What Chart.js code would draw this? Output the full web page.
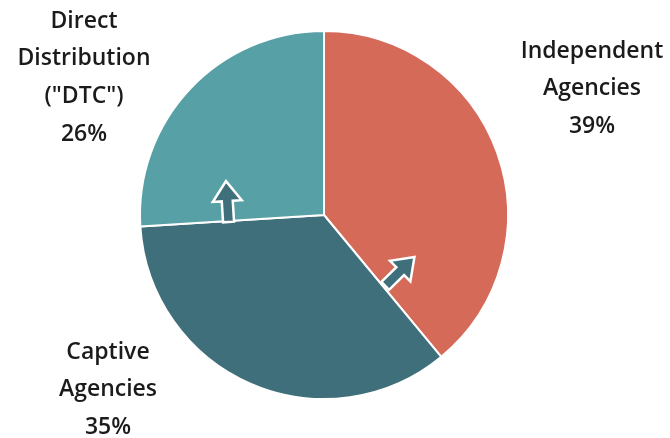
<!DOCTYPE html>
<html>
<head>
<meta charset="utf-8">
<script src="https://cdn.jsdelivr.net/npm/chart.js@4.4.1/dist/chart.umd.min.js"></script>
<style>
  html, body { margin: 0; padding: 0; background: #ffffff; }
  #wrap { width: 670px; height: 438px; }
</style>
</head>
<body>
<div id="wrap"><canvas id="chart" width="670" height="438"></canvas></div>
<script>
// Distribution channel shares
const categories = ['Independent Agencies', 'Captive Agencies', 'Direct Distribution ("DTC")'];
const shares = [39, 35, 26];
const labelLines = [
  ['Independent', 'Agencies'],
  ['Captive', 'Agencies'],
  ['Direct', 'Distribution', '("DTC")']
];
const sliceColors = ['#d56a59', '#3f6f7b', '#57a0a5'];

// Label anchor (center x, first line y) and line spacing
const labelPlacement = [
  { x: 592, y: 51 },
  { x: 108, y: 352 },
  { x: 84, y: 21 }
];
const lineGap = 37.8;

// Shift arrows: drawn on the boundary after slice `boundary`,
// pointing out of the Captive slice into its neighbour.
const shiftArrows = [
  { boundary: 0, dir: -1, at: 0.51, tilt: -5, shift: 3 },
  { boundary: 1, dir: 1, at: 0.52, tilt: 0, shift: 0 }
];

const labelsPlugin = {
  id: 'sliceLabels',
  afterDraw(chart) {
    const ctx = chart.ctx;
    ctx.save();
    ctx.fillStyle = '#1b1b1b';
    ctx.font = '600 23px "Open Sans", "Lato", sans-serif';
    ctx.textAlign = 'center';
    ctx.textBaseline = 'middle';
    categories.forEach((c, i) => {
      const lines = labelLines[i].concat([shares[i] + '%']);
      const p = labelPlacement[i];
      lines.forEach((t, k) => ctx.fillText(t, p.x, p.y + k * lineGap));
    });
    ctx.restore();
  }
};

const arrowsPlugin = {
  id: 'shiftArrows',
  afterDatasetsDraw(chart) {
    const ctx = chart.ctx;
    const arcs = chart.getDatasetMeta(0).data;
    shiftArrows.forEach(a => {
      const arc = arcs[a.boundary];
      const th = arc.endAngle;
      const r = arc.outerRadius * a.at;
      const bx = arc.x + r * Math.cos(th);
      const by = arc.y + r * Math.sin(th);
      // direction perpendicular to the boundary radius
      const ang = th + a.dir * Math.PI / 2 + a.tilt * Math.PI / 180;
      ctx.save();
      ctx.translate(bx, by);
      ctx.rotate(ang);
      ctx.translate(a.shift, 0);
      ctx.beginPath();
      ctx.moveTo(-1, -5.5);
      ctx.lineTo(20, -5.5);
      ctx.lineTo(20, -14.5);
      ctx.lineTo(40, 0);
      ctx.lineTo(20, 14.5);
      ctx.lineTo(20, 5.5);
      ctx.lineTo(-1, 5.5);
      ctx.closePath();
      ctx.fillStyle = sliceColors[1];
      ctx.fill();
      ctx.lineWidth = 2.5;
      ctx.lineJoin = 'miter';
      ctx.strokeStyle = '#ffffff';
      ctx.stroke();
      ctx.restore();
    });
  }
};

new Chart(document.getElementById('chart'), {
  type: 'pie',
  data: {
    labels: categories,
    datasets: [{
      data: shares,
      backgroundColor: sliceColors,
      borderColor: '#ffffff',
      borderWidth: 2
    }]
  },
  options: {
    responsive: false,
    animation: false,
    layout: { padding: { left: 139, right: 161, top: 30, bottom: 38 } },
    plugins: {
      legend: { display: false },
      tooltip: { enabled: false }
    }
  },
  plugins: [arrowsPlugin, labelsPlugin]
});
</script>
</body>
</html>
